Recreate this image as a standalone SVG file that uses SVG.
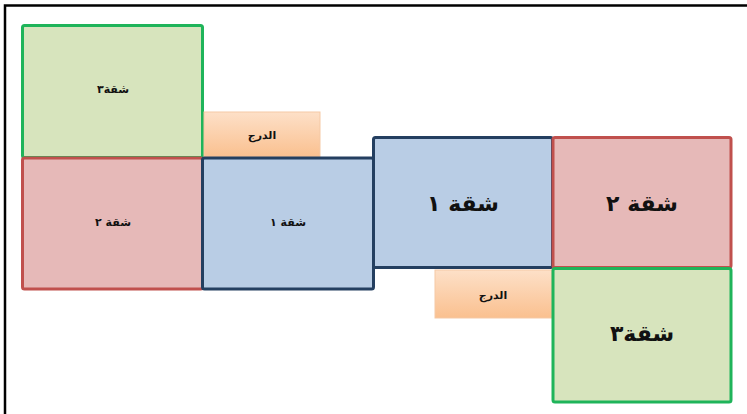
<svg xmlns="http://www.w3.org/2000/svg" width="747" height="414" viewBox="0 0 747 414">
<defs>
<linearGradient id="stair" x1="0" y1="0" x2="0" y2="1">
<stop offset="0" stop-color="#fde0c8"/>
<stop offset="1" stop-color="#fac08f"/>
</linearGradient>
<style>
.g{fill:#d7e4bd;stroke:#1fb45a;stroke-width:3}
.r{fill:#e6b9b8;stroke:#c0504d;stroke-width:3}
.b{fill:#b9cde5;stroke:#243f60;stroke-width:3}
.s{fill:url(#stair);stroke:#f5c9a5;stroke-width:1}
.t{font-family:"DejaVu Sans","Noto Sans",sans-serif;font-weight:bold;fill:#111;text-anchor:middle;dominant-baseline:middle}
.sm{font-size:11px}
.lg{font-size:22px}
</style>
</defs>
<rect width="747" height="414" fill="#fff"/>
<path d="M5 414 V5.5 H747" fill="none" stroke="#000" stroke-width="2.5"/>
<g id="apt3-left"><rect class="g" x="22.5" y="25.5" width="180" height="132" rx="2"/><text class="t sm" x="113" y="90">شقة٣</text></g>
<g id="stairs-top"><rect class="s" x="204" y="112" width="116" height="45"/><text class="t sm" x="262" y="136">الدرج</text></g>
<g id="apt2-left"><rect class="r" x="22.5" y="158" width="180" height="131" rx="2"/><text class="t sm" x="113" y="223">شقة ٢</text></g>
<g id="apt1-left"><rect class="b" x="202.5" y="158" width="171" height="131" rx="2"/><text class="t sm" x="288" y="223">شقة ١</text></g>
<g id="apt1-right"><rect class="b" x="373.5" y="137.5" width="179" height="130" rx="2"/><text class="t lg" x="463" y="205">شقة ١</text></g>
<g id="apt2-right"><rect class="r" x="553" y="137.5" width="178" height="130" rx="2"/><text class="t lg" x="642" y="205">شقة ٢</text></g>
<g id="stairs-bottom"><rect class="s" x="435" y="270" width="117" height="48"/><text class="t sm" x="493" y="296">الدرج</text></g>
<g id="apt3-right"><rect class="g" x="553" y="268.5" width="178" height="133.5" rx="2"/><text class="t lg" x="642" y="335">شقة٣</text></g>
<g id="connectors"></g>
</svg>
